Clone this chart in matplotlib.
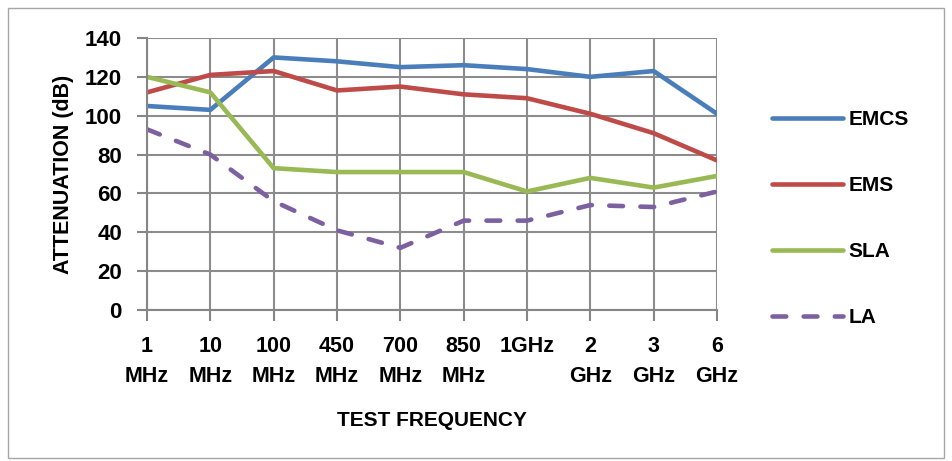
import matplotlib
matplotlib.use("Agg")
import matplotlib.pyplot as plt
from matplotlib.patches import Rectangle

plt.rcParams['font.family'] = ['Liberation Sans', 'DejaVu Sans']
plt.rcParams['font.weight'] = 'bold'
plt.rcParams['axes.labelweight'] = 'bold'

categories = ["1\nMHz", "10\nMHz", "100\nMHz", "450\nMHz", "700\nMHz",
              "850\nMHz", "1GHz\n", "2\nGHz", "3\nGHz", "6\nGHz"]
emcs = [105, 103, 130, 128, 125, 126, 124, 120, 123, 101]
ems = [112, 121, 123, 113, 115, 111, 109, 101, 91, 77]
sla = [120, 112, 73, 71, 71, 71, 61, 68, 63, 69]
la = [93, 80, 56, 41, 32, 46, 46, 54, 53, 61]

fig = plt.figure(figsize=(9.52, 4.61), dpi=100)
# outer chart border like the spreadsheet frame
fig.patches.append(Rectangle((8 / 952, 3 / 461), 936 / 952, 450 / 461,
                             transform=fig.transFigure, fill=False,
                             edgecolor='#a6a6a6', lw=1))
ax = fig.add_axes([147 / 952, 1 - 310 / 461, 570 / 952, 272 / 461])

x = list(range(len(categories)))
ax.plot(x, emcs, color='#4a7ebb', lw=3.3, label='EMCS', solid_capstyle='round')
ax.plot(x, ems, color='#be4b48', lw=3.3, label='EMS', solid_capstyle='round')
ax.plot(x, sla, color='#98b954', lw=3.3, label='SLA', solid_capstyle='round')
ax.plot(x, la, color='#7d60a0', lw=3.3, label='LA', dashes=(3.0, 3.8),
        dash_capstyle='round')

ax.set_xlim(0, len(categories) - 1)
ax.set_ylim(0, 140)
ax.set_yticks(range(0, 141, 20))
ax.set_xticks(x)
ax.set_xticklabels(categories, fontsize=15.5, linespacing=1.55)
ax.tick_params(axis='y', labelsize=16, length=7, color='#868686', width=1.5, pad=11)
ax.tick_params(axis='x', length=8, color='#868686', width=1.5, pad=11)
ax.grid(True, color='#8c8c8c', lw=1.5)
ax.set_axisbelow(True)
for s in ['top', 'right']:
    ax.spines[s].set_visible(False)
for s in ['left', 'bottom']:
    ax.spines[s].set_color('#868686')
    ax.spines[s].set_linewidth(1.5)

ax.set_ylabel('ATTENUATION (dB)', fontsize=15.5, labelpad=8)
ax.set_xlabel('TEST FREQUENCY', fontsize=15, labelpad=17)

ax.legend(loc='center left', bbox_to_anchor=(1.096, 0.336), frameon=False,
          fontsize=15, handlelength=3.4, labelspacing=2.25, handletextpad=0.3,
          borderpad=0, borderaxespad=0)

fig.savefig('out.png', dpi=100)
